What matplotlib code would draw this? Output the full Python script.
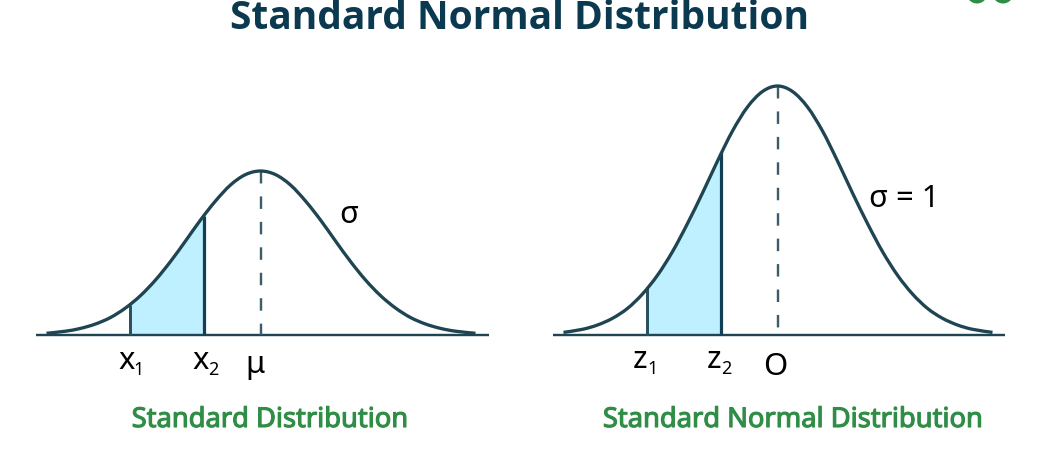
import matplotlib
matplotlib.use("Agg")
import matplotlib.pyplot as plt
import matplotlib.patheffects as pe
from matplotlib.path import Path
from matplotlib.patches import PathPatch, Circle

W, H = 1042, 462

# values, in reference pixels (height = above the baseline)
title = "Standard Normal Distribution"
left_caption = "Standard Distribution"
right_caption = "Standard Normal Distribution"

left_x = [46.5, 65.5, 80.5, 95.5, 110.5, 125.5, 140.5, 155.5, 170.5, 185.5, 200.5, 215.5, 230.5, 245.5,
          260.5, 275.5, 290.5, 305.5, 320.5, 335.5, 350.5, 365.5, 380.5, 395.5, 410.5, 425.5, 440.5, 455.5, 475.5]
left_h = [1.7, 3.8, 6.6, 11, 17.5, 27, 39.4, 55, 73.5, 94, 115, 134, 150, 160.4,
          164, 160.4, 150, 134, 115, 94, 73.5, 55, 39.4, 27, 17.5, 11, 6.6, 3.8, 1.7]
right_x = [563.5, 582.5, 597.5, 612.5, 627.5, 642.5, 657.5, 672.5, 687.5, 702.5, 717.5, 732.5, 747.5, 762.5,
           777.5, 792.5, 807.5, 822.5, 837.5, 852.5, 867.5, 882.5, 897.5, 912.5, 927.5, 942.5, 957.5, 972.5, 992.5]
right_h = [2.6, 5.7, 10, 16.7, 26.6, 41, 59.8, 83.4, 111.5, 142, 174, 204, 228, 243.5,
           249, 243.5, 228, 204, 174, 142, 111.5, 83.4, 59.8, 41, 26.6, 16.7, 10, 5.7, 2.6]

left_shade_x = [130, 140.5, 155.5, 170.5, 185.5, 200.5, 204]
left_shade_h = [30, 39.4, 55, 73.5, 94, 115, 119]
right_shade_x = [647, 657.5, 672.5, 687.5, 702.5, 717.5, 721]
right_shade_h = [47, 59.8, 83.4, 111.5, 142, 174, 183]

baseline_y = 335
left_axis_span = [36, 489]
right_axis_span = [553, 1005]
left_mean, left_peak = 260.5, 164
right_mean, right_peak = 777.5, 249

NAVY = "#1f4452"
DARK = "#123f55"
FILL = "#bff0ff"
GREEN = "#2f8d46"

px = 72 / 100  # points per reference pixel
plt.rcParams["font.family"] = ["Noto Sans", "DejaVu Sans"]

fig = plt.figure(figsize=(W / 100, H / 100), dpi=100)
ax = fig.add_axes([0, 0, 1, 1])
ax.set_xlim(0, W)
ax.set_ylim(H, 0)
ax.axis("off")


def smooth_path(xs, ys):
    """Smooth line through the read points (Catmull-Rom handles, as Bezier)."""
    verts = [(xs[0], ys[0])]
    codes = [Path.MOVETO]
    n = len(xs)
    for i in range(n - 1):
        a, b = max(i - 1, 0), min(i + 2, n - 1)
        c1 = (xs[i] + (xs[i + 1] - xs[a]) / 6, ys[i] + (ys[i + 1] - ys[a]) / 6)
        c2 = (xs[i + 1] - (xs[b] - xs[i]) / 6, ys[i + 1] - (ys[b] - ys[i]) / 6)
        verts += [c1, c2, (xs[i + 1], ys[i + 1])]
        codes += [Path.CURVE4] * 3
    return Path(verts, codes)


def panel(xs, hs, sx, sh, span, mean, peak):
    ys = [baseline_y - h for h in hs]
    sy = [baseline_y - h for h in sh]
    ax.fill_between(sx, sy, [baseline_y] * len(sx), color=FILL, lw=0, zorder=1)
    ax.plot(span, [baseline_y, baseline_y], color=NAVY, lw=2.4 * px, solid_capstyle="butt", zorder=2)
    ax.plot([mean, mean], [baseline_y - peak, baseline_y], color="#3d5c69", lw=2.4 * px,
            dashes=(5.2, 5.4), zorder=2)
    ax.plot([sx[0], sx[0]], [sy[0], baseline_y], color="#2a5260", lw=3 * px, solid_capstyle="butt", zorder=3)
    ax.plot([sx[-1], sx[-1]], [sy[-1], baseline_y], color=DARK, lw=3.2 * px, solid_capstyle="butt", zorder=3)
    ax.add_patch(PathPatch(smooth_path(xs, ys), fill=False, ec=NAVY, lw=3.3 * px, capstyle="butt", zorder=4))


def label(x, y, s, size=31):
    ax.text(x, y, s, fontsize=size * px, ha="center", va="baseline", color="black")


def caption(x, s):
    t = ax.text(x, 427, s, fontsize=27.3 * px, ha="center", va="baseline", color=GREEN)
    t.set_path_effects([pe.withStroke(linewidth=0.8, foreground=GREEN)])


panel(left_x, left_h, left_shade_x, left_shade_h, left_axis_span, left_mean, left_peak)
panel(right_x, right_h, right_shade_x, right_shade_h, right_axis_span, right_mean, right_peak)

label(126.5, 369, "x")
label(138.5, 375, "1", 18)
label(201, 369, "x")
label(213, 375, "2", 18)
label(255, 372.5, "\u03bc")
label(349, 223, "\u03c3")

label(640, 368, "z")
label(652.5, 374, "1", 18)
label(714, 368, "z")
label(726.5, 374, "2", 18)
label(775, 375, "O")
label(904.5, 207, "\u03c3 = 1", 31)

caption(270, left_caption)
caption(793, right_caption)

ax.text(520, 29, title, fontsize=39 * px, family="Open Sans", fontweight="bold",
        ha="center", va="baseline", color="#0b3a50")

for cx in (977, 1003):
    ax.add_patch(Circle((cx, -7), 10.5, fc=GREEN, ec="none", zorder=5))

fig.savefig("out.png", dpi=100)
